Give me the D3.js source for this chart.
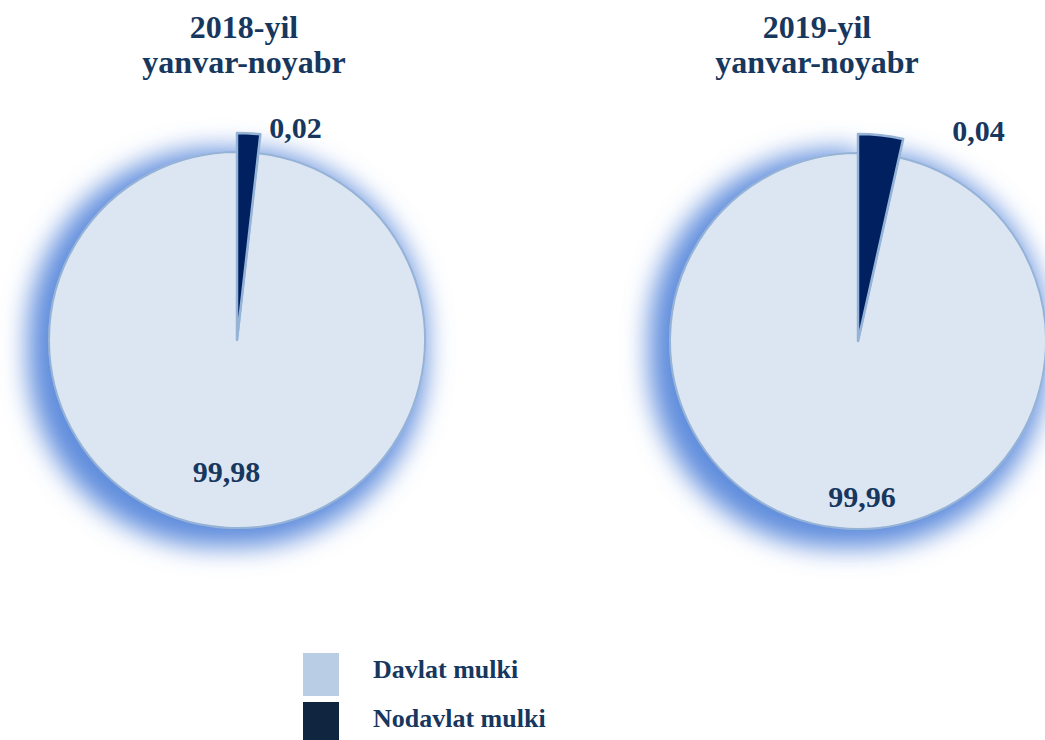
<!DOCTYPE html>
<html>
<head>
<meta charset="utf-8">
<script src="https://cdn.jsdelivr.net/npm/d3@7"></script>
<style>
  body { margin: 0; background: #fff; }
  text { font-family: "Liberation Serif", "Times New Roman", serif; font-weight: bold; fill: #17375e; }
</style>
</head>
<body>
<div id="chart"></div>
<script>
// categories & values
var categories = ["Davlat mulki", "Nodavlat mulki"];
var years = ["2018-yil", "2019-yil"];
var period = "yanvar-noyabr";
var labels2018 = ["99,98", "0,02"];
var labels2019 = ["99,96", "0,04"];
// slice shares as drawn in the picture (small slice is enlarged there)
var shares2018 = [98.2, 1.8];
var shares2019 = [96.5, 3.5];

var colors = ["#dce6f2", "#002060"];
var legendColors = ["#b9cde5", "#10253f"];

var width = 1045, height = 740;

var svg = d3.select("#chart")
  .append("svg")
    .attr("width", width)
    .attr("height", height);

// blue outer glow
var defs = svg.append("defs");
var f = defs.append("filter").attr("id", "glow")
  .attr("x", "-40%").attr("y", "-40%").attr("width", "180%").attr("height", "180%");
f.append("feMorphology").attr("in", "SourceAlpha").attr("operator", "dilate").attr("radius", 10).attr("result", "dil");
f.append("feOffset").attr("in", "dil").attr("dx", -10).attr("dy", 8).attr("result", "off");
f.append("feGaussianBlur").attr("in", "off").attr("stdDeviation", 13).attr("result", "blur");
f.append("feFlood").attr("flood-color", "#4f81d9").attr("flood-opacity", 0.9);
f.append("feComposite").attr("in2", "blur").attr("operator", "in").attr("result", "glowc");
var m = f.append("feMerge");
m.append("feMergeNode").attr("in", "glowc");
m.append("feMergeNode").attr("in", "SourceGraphic");

var pies = [
  {year: years[0], shares: shares2018, labels: labels2018, cx: 237, cy: 340, tx: 244,
   bigR: 132, bigDx: -3, smallDx: 9, smallDy: 4},
  {year: years[1], shares: shares2019, labels: labels2019, cx: 858, cy: 341, tx: 817,
   bigR: 156, bigDx: 21, smallDx: 49, smallDy: 2}
];

var radius = 188;
var pie = d3.pie().sort(null).value(function(d) { return d.value; });
var arcBig = d3.arc().innerRadius(0).outerRadius(radius);
var arcSmall = d3.arc().innerRadius(0).outerRadius(207);

pies.forEach(function(p) {
  var g = svg.append("g")
    .attr("transform", "translate(" + p.cx + "," + p.cy + ")");

  // pie starts at 12 o'clock with the small slice
  var data = [
    {cat: 1, value: p.shares[1], label: p.labels[1]},
    {cat: 0, value: p.shares[0], label: p.labels[0]}
  ];
  var arcs = pie(data);

  g.append("path")
    .attr("d", arcBig(arcs[1]))
    .attr("fill", colors[0])
    .attr("stroke", "#95b3d7")
    .attr("stroke-width", 2)
    .attr("filter", "url(#glow)");

  g.append("path")
    .attr("d", arcSmall(arcs[0]))
    .attr("fill", colors[1])
    .attr("stroke", "#95b3d7")
    .attr("stroke-width", 2.5)
    .attr("stroke-linejoin", "round");

  // big slice label
  var bigLab = d3.arc().innerRadius(p.bigR).outerRadius(p.bigR).centroid(arcs[1]);
  g.append("text")
    .attr("x", bigLab[0] + p.bigDx)
    .attr("y", bigLab[1])
    .attr("dy", "0.35em")
    .attr("text-anchor", "middle")
    .style("font-size", "30px")
    .text(arcs[1].data.label);

  // small slice label, outside at the slice end
  var a = arcs[0].endAngle;
  g.append("text")
    .attr("x", Math.sin(a) * 207 + p.smallDx)
    .attr("y", -Math.cos(a) * 207 + p.smallDy)
    .attr("text-anchor", "start")
    .style("font-size", "30px")
    .text(arcs[0].data.label);

  // titles
  svg.append("text")
    .attr("x", p.tx).attr("y", 38)
    .attr("text-anchor", "middle")
    .style("font-size", "32px")
    .text(p.year);
  svg.append("text")
    .attr("x", p.tx).attr("y", 73)
    .attr("text-anchor", "middle")
    .style("font-size", "32px")
    .text(period);
});

// legend
var legend = svg.append("g").attr("transform", "translate(303,653)");
categories.forEach(function(c, i) {
  legend.append("rect")
    .attr("x", 0).attr("y", i * 49)
    .attr("width", 36).attr("height", i == 0 ? 43 : 38)
    .attr("fill", legendColors[i]);
  legend.append("text")
    .attr("x", 70).attr("y", i * 49 + 25)
    .style("font-size", "26px")
    .text(c);
});
</script>
</body>
</html>
